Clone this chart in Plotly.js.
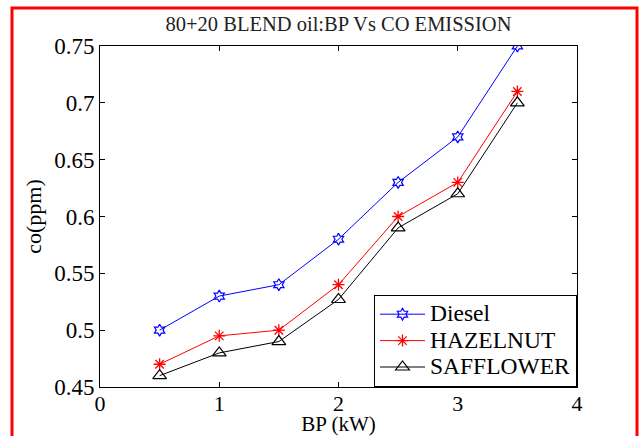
<!DOCTYPE html>
<html><head><meta charset="utf-8">
<script src="https://cdn.plot.ly/plotly-3.0.1.min.js"></script>
<style>html,body{margin:0;padding:0;background:#fff;}#chart{width:641px;height:436px;}
text{font-family:"Liberation Serif",serif !important;}
text.legendtext{font-size:23.5px !important;}</style>
</head><body><div id="chart"></div>
<script>
const bp = [0.5, 1, 1.5, 2, 2.5, 3, 3.5];
const diesel = [0.50, 0.53, 0.54, 0.58, 0.63, 0.67, 0.75];
const hazelnut = [0.47, 0.495, 0.50, 0.54, 0.60, 0.63, 0.71];
const safflower = [0.46, 0.48, 0.49, 0.527, 0.59, 0.62, 0.70];
const xTicks = [0, 1, 2, 3, 4];
const yTicks = [0.45, 0.5, 0.55, 0.6, 0.65, 0.7, 0.75];
const xTitle = 'BP (kW)';
const yTitle = 'co(ppm)';

const font = "Liberation Serif";
const traces = [
  {x: bp, y: diesel, name: 'Diesel', mode: 'lines+markers',
   line: {color: '#0000ff', width: 1}, marker: {symbol: 'hexagram-open', size: 9, color: '#0000ff', line: {width: 1.2}}},
  {x: bp, y: hazelnut, name: 'HAZELNUT', mode: 'lines+markers',
   line: {color: '#ff0000', width: 1}, marker: {symbol: 'asterisk-open', size: 10, color: '#ff0000', line: {width: 1.3, color: '#ff0000'}}},
  {x: bp, y: safflower, name: 'SAFFLOWER', mode: 'lines+markers',
   line: {color: '#000000', width: 1}, marker: {symbol: 'triangle-up-open', size: 12, color: '#000000', line: {width: 1.2}}}
];
const axisCommon = {
  showgrid: false, zeroline: false, showline: true, mirror: 'ticks',
  linecolor: '#000', linewidth: 1, ticks: 'inside', ticklen: 5, tickcolor: '#000',
  tickfont: {family: font, size: 23, color: '#000'}
};
const layout = {
  width: 641, height: 436,
  margin: {l: 100, r: 64, t: 46, b: 49},
  paper_bgcolor: '#fff', plot_bgcolor: '#fff',
  font: {family: font, color: '#000'},
  title: {text: '80+20 BLEND oil:BP Vs CO EMISSION', font: {family: font, size: 20.5, color: '#222'},
          x: 0.5, xref: 'paper', y: 0.945, yanchor: 'middle'},
  xaxis: Object.assign({}, axisCommon, {range: [0, 4], tickvals: xTicks, ticktext: xTicks.map(String),
          tickfont: {family: font, size: 22, color: '#000'}, ticklabelstandoff: -3,
          title: {text: xTitle, font: {family: font, size: 21}, standoff: 0}}),
  yaxis: Object.assign({}, axisCommon, {range: [0.45, 0.75], tickvals: yTicks, ticktext: yTicks.map(v => String(v))}),
  legend: {x: 1, y: 0, xanchor: 'right', yanchor: 'bottom', bgcolor: '#fff', bordercolor: '#000', borderwidth: 1,
           font: {family: font, size: 18, color: '#000'}, tracegroupgap: 0, itemwidth: 45},
  showlegend: true,
  annotations: [
    {text: yTitle, xref: 'paper', yref: 'paper', x: -0.14, y: 0.5, xanchor: 'center', yanchor: 'middle',
     textangle: -90, showarrow: false, font: {family: font, size: 22, color: '#000'}}
  ],
  shapes: [
    {type: 'rect', xref: 'paper', yref: 'paper', x0: -0.1845, x1: 1.1258, y0: -0.2, y1: 1.1114,
     line: {color: '#ff0000', width: 3}, fillcolor: 'rgba(0,0,0,0)', layer: 'above'}
  ]
};
Plotly.newPlot('chart', traces, layout, {displayModeBar: false, staticPlot: true});
</script></body></html>
